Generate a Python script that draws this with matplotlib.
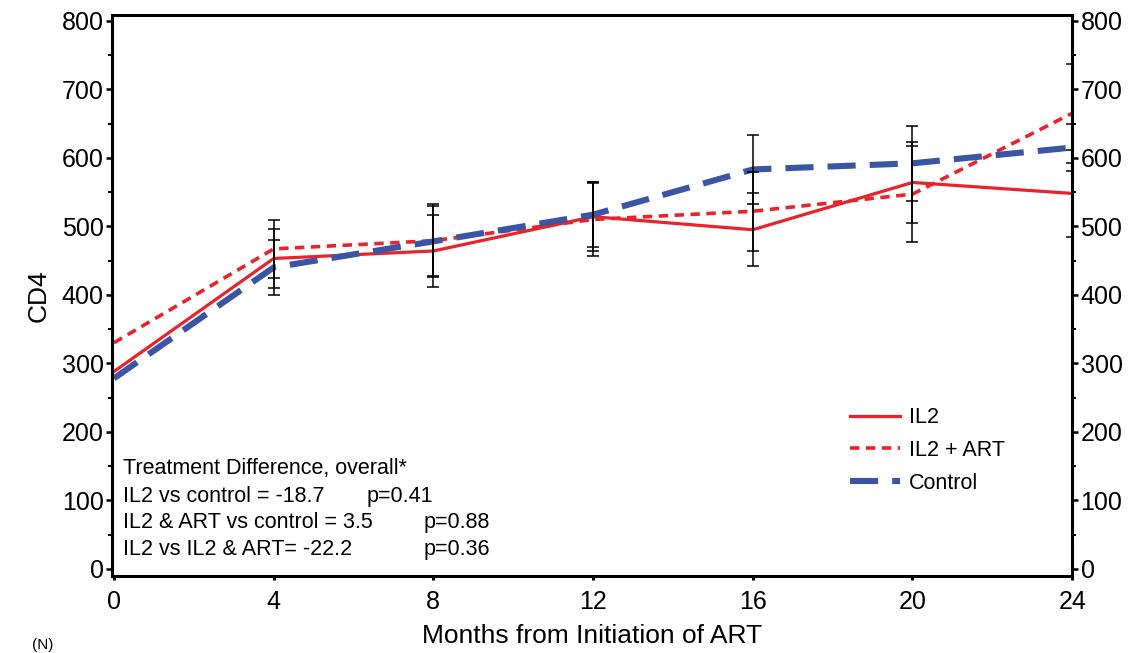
import numpy as np
import matplotlib.pyplot as plt
from matplotlib.ticker import MultipleLocator

plt.rcParams['font.family'] = ['Liberation Sans', 'DejaVu Sans']

# data
months = [0, 4, 8, 12, 16, 20, 24]
il2 = [288, 453, 464, 514, 495, 564, 548]
il2_art = [330, 467, 479, 510, 522, 547, 665]
control = [278, 440, 478, 517, 583, 592, 615]

err_months = [4, 8, 12, 16, 20, 24]
il2_err = [43, 52, 50, 53, 59, 64]
il2_art_err = [42, 53, 53, 58, 70, 72]
control_err = [40, 51, 47, 51, 55, 34]

stats_lines = ['Treatment Difference, overall*',
               'IL2 vs control = -18.7',
               'IL2 & ART vs control = 3.5',
               'IL2 vs IL2 & ART= -22.2']
p_values = ['', 'p=0.41', 'p=0.88', 'p=0.36']

red = '#e8232b'
blue = '#3a55a4'

fig = plt.figure(figsize=(11.31, 6.53), dpi=100)
ax = fig.add_axes([0.099, 0.118, 0.849, 0.859])

# lines
ax.plot(months, il2, color=red, lw=2.3, label='IL2', zorder=2)
ax.plot(months, il2_art, color=red, lw=2.6, dashes=(2.6, 1.8), label='IL2 + ART', zorder=2)
ax.plot(months, control, color=blue, lw=4.4, dashes=(4.6, 2.3), label='Control', zorder=2)

# error bars (no markers)
for ys, es in [(il2, il2_err), (il2_art, il2_art_err), (control, control_err)]:
    ax.errorbar(err_months, ys[1:], yerr=es, fmt='none', ecolor='black',
                elinewidth=1.1, capsize=4, capthick=1.1, zorder=3)

ax.set_xlim(-0.05, 24.0)
ax.set_ylim(-10.5, 808.5)
ax.set_xticks(months)
ax.yaxis.set_major_locator(MultipleLocator(100))
ax.yaxis.set_minor_locator(MultipleLocator(50))

for sp in ax.spines.values():
    sp.set_linewidth(2.2)

ax.tick_params(axis='y', which='major', direction='out', length=4, width=1.8,
               labelsize=18, pad=2, right=True, labelright=True)
ax.tick_params(axis='y', which='minor', direction='out', length=3, width=1.5, right=True)
ax.tick_params(axis='x', which='major', direction='out', length=3, width=2.2,
               labelsize=18, pad=7)

ax.set_xlabel('Months from Initiation of ART', fontsize=19, labelpad=7)
ax.set_ylabel('CD4', fontsize=19, labelpad=8)

# legend
leg = ax.legend(loc='upper left', bbox_to_anchor=(0.769, 0.301), frameon=False,
                fontsize=15.5, handlelength=2.3, handletextpad=0.4,
                labelspacing=0.55, borderpad=0, borderaxespad=0)

# treatment difference block
line_y = [0.1907, 0.1414, 0.0945, 0.0463]
for txt, p, yy in zip(stats_lines, p_values, line_y):
    ax.text(0.011, yy, txt, transform=ax.transAxes, fontsize=15.5, va='center', ha='left')
    if p:
        px = 0.265 if p == 'p=0.41' else 0.325
        ax.text(px, yy, p, transform=ax.transAxes, fontsize=15.5, va='center', ha='left')

# small leftover label at the bottom edge of the original
fig.text(0.028, 0.001, '(N)', fontsize=11, va='bottom', ha='left')

fig.savefig('out.png', dpi=100)
